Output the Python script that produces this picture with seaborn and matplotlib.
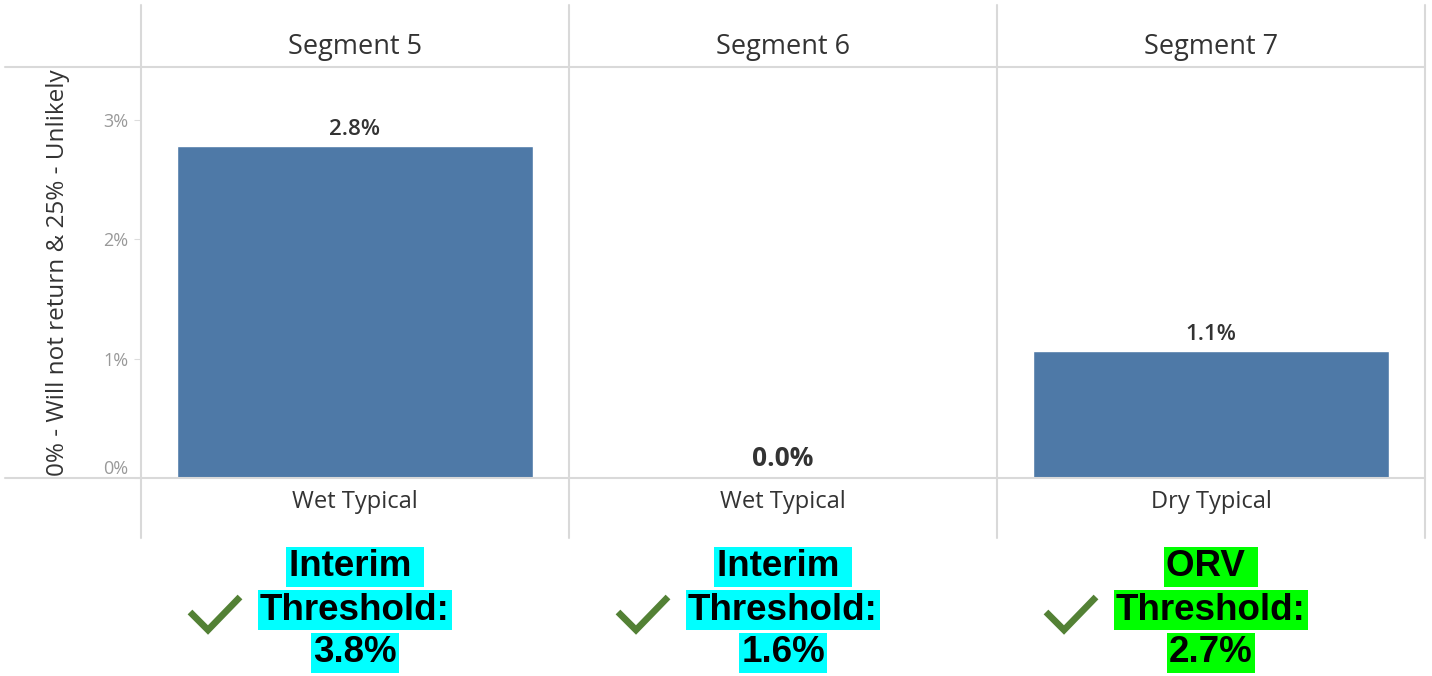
import pandas as pd
import seaborn as sns
import matplotlib.pyplot as plt
import matplotlib.transforms as mtransforms
from matplotlib.lines import Line2D

# dati
segments = ["Segment 5", "Segment 6", "Segment 7"]
types = ["Wet Typical", "Wet Typical", "Dry Typical"]
values = [2.78, 0.0, 1.06]
value_labels = ["2.8%", "0.0%", "1.1%"]
thr_first = ["Interim ", "Interim ", "ORV "]
thr_value = ["3.8%", "1.6%", "2.7%"]
thr_colors = ["#00ffff", "#00ffff", "#00ff00"]
yticks = [0, 1, 2, 3]

df = pd.DataFrame({"Segment": segments, "Type": types, "Value": values})

sns.set_style("white")
plt.rcParams["font.family"] = ["Open Sans", "DejaVu Sans"]

W, H = 1432, 676
fig = plt.figure(figsize=(W / 100, H / 100), dpi=100)
ax = fig.add_axes([141 / W, 1 - 478 / H, (1425 - 141) / W, (478 - 67) / H])

sns.barplot(data=df, x="Segment", y="Value", color="#4e79a7", width=0.834,
            saturation=1, ax=ax)
ax.set_xlim(-0.5, 2.5)
ax.set_ylim(0, 3.44)
for s in ax.spines.values():
    s.set_visible(False)

# etichette dei valori
for i, (v, lab) in enumerate(zip(values, value_labels)):
    if v == 0:
        ax.text(i, v + 0.05, lab, ha="center", va="bottom", fontsize=19,
                fontweight="bold", color="#333333")
    else:
        ax.text(i, v + 0.05, lab, ha="center", va="bottom", fontsize=16,
                fontweight="semibold", color="#333333")

# assi
ax.set_xlabel("")
ax.set_xticks(range(len(types)))
ax.set_xticklabels(types, fontsize=17, color="#333333")
ax.tick_params(axis="x", length=0, pad=9)
ax.set_yticks(yticks)
ax.set_yticklabels([f"{t}%" for t in yticks], fontsize=13, color="#999999")
ax.tick_params(axis="y", length=5, color="#dddddd", pad=4, left=True)
ax.get_yticklabels()[0].set_va("bottom")
ax.set_ylabel("0% - Will not return & 25% - Unlikely", fontsize=17.5,
              color="#333333", labelpad=24)

# intestazioni
for i, seg in enumerate(segments):
    fig.text((141 + 428 * i + 214) / W, 1 - 47 / H, seg, ha="center",
             va="center", fontsize=19.5, color="#333333")

# griglia stile tableau
grid = "#d9d9d9"
for y in [67, 478]:
    fig.add_artist(Line2D([5 / W, 1425 / W], [1 - y / H, 1 - y / H],
                          color=grid, lw=1.5))
for x in [141, 569, 997, 1425]:
    fig.add_artist(Line2D([x / W, x / W], [1 - 5 / H, 1 - 538 / H],
                          color=grid, lw=1.5))

# soglie
tr = mtransforms.blended_transform_factory(ax.transData, fig.transFigure)
for i in range(len(segments)):
    lines = [thr_first[i], "Threshold:", thr_value[i]]
    for k, (line, yp) in enumerate(zip(lines, [567, 610, 653])):
        ax.text(i, 1 - yp / H, line, transform=tr, ha="center", va="center",
                fontsize=26.5, fontweight="bold", color="black",
                family="Liberation Sans",
                bbox=dict(boxstyle="square,pad=0.06", fc=thr_colors[i],
                          ec="none"))
    # segno di spunta
    cx = ax.transData.transform((i, 0))[0] / W
    xs = [cx - 165 / W, cx - 147 / W, cx - 115 / W]
    ys = [1 - 612 / H, 1 - 630 / H, 1 - 597 / H]
    fig.add_artist(Line2D(xs, ys, color="#538135", lw=4.8,
                          solid_joinstyle="miter", solid_capstyle="butt"))

plt.savefig("out.png", dpi=100)
